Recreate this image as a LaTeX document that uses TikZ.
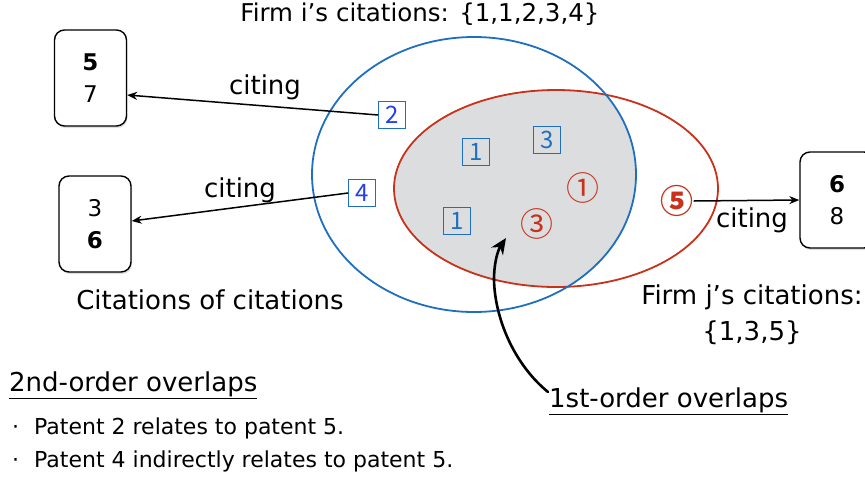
\documentclass[tikz,border=0pt]{standalone}
\usepackage{fontspec}
\setmainfont{DejaVu Sans}
\newfontfamily\cjk{Noto Sans CJK JP}
\usetikzlibrary{arrows.meta,shadows}
\definecolor{firmblue}{HTML}{1F6FC0}
\definecolor{labelblue}{HTML}{2240F0}
\definecolor{firmred}{HTML}{C8321A}
\definecolor{overlapgray}{HTML}{DCDDDF}
\tikzset{
  citebox/.style={draw, line width=1.4pt, rounded corners=10pt, fill=white,
    drop shadow={shadow xshift=1pt, shadow yshift=-2pt, opacity=0.25},
    minimum width=72pt, minimum height=96pt, align=center, font=\fontsize{23}{32}\selectfont},
  patbox/.style={draw=firmblue, line width=0.8pt, text=firmblue, inner sep=0pt,
    minimum width=27pt, minimum height=27pt, font=\cjk\fontsize{24}{24}\selectfont},
  patboxout/.style={patbox, text=labelblue},
  circnum/.style={text=firmred, inner sep=0pt, font=\cjk\fontsize{33}{33}\selectfont},
  plain/.style={inner sep=0pt, font=\fontsize{26}{28}\selectfont},
  bullet/.style={inner sep=0pt, font=\fontsize{22}{24}\selectfont},
  cite/.style={-{Stealth[length=10pt,width=8pt]}, line width=1.5pt},
}
\begin{document}
\begin{tikzpicture}[x=1pt,y=-1pt]
\useasboundingbox (0,0) rectangle (865,480);

% overlap of the two citation sets
\begin{scope}
  \clip (474,174.5) ellipse [x radius=162, y radius=137.5];
  \fill[overlapgray] (556,188.5) ellipse [x radius=162, y radius=98.5];
\end{scope}
\draw[firmred, line width=1.8pt] (556,188.5) ellipse [x radius=162, y radius=98.5];
\draw[firmblue, line width=1.8pt] (474,174.5) ellipse [x radius=162, y radius=137.5];

% set labels
\node[plain, font=\fontsize{24.5}{28}\selectfont] (firmi) at (420,14) {Firm i’s citations: \{1,1,2,3,4\}};
\node[plain] (firmj) at (752,297) {Firm j’s citations:};
\node[plain] (firmjset) at (752,333) {\{1,3,5\}};
\node[plain] (coc) at (210,300) {Citations of citations};

% patents of firm i
\node[patboxout] (p2) at (392,115) {2};
\node[patboxout] (p4) at (362,193) {4};
\node[patbox] (p1a) at (476,152) {1};
\node[patbox] (p3) at (547,140) {3};
\node[patbox] (p1b) at (457,221) {1};

% patents of firm j
\node[circnum] (c1) at (583,188) {①};
\node[circnum] (c3) at (537,224) {③};
\node[circnum, font=\cjk\bfseries\fontsize{33}{33}\selectfont] (c5) at (677,201) {⑤};

% citing patents
\node[citebox] (b57) at (90.5,78) {\textbf{5}\\7};
\node[citebox] (b36) at (95,224) {3\\\textbf{6}};
\node[citebox, minimum width=74pt] (b68) at (837,200) {\textbf{6}\\8};

% citation links
\draw[cite] (p2.west) -- (b57.east |- 0,95);
\draw[cite] (p4.west) -- (b36.east |- 0,221);
\draw[cite] (c5.east) -- (b68.west);
\node[plain] (l1) at (265,87) {citing};
\node[plain] (l2) at (240,190) {citing};
\node[plain] (l3) at (752,220) {citing};

% pointer to the overlap
\coordinate (tail) at (548,392);
\coordinate (tip) at (506,238);
\draw[line width=2.6pt, line cap=round, -{Stealth[length=16pt,width=14pt]}]
  (tail) .. controls (515,365) and (495,320) .. (494,280)
  .. controls (494,262) and (498,250) .. (tip);

\node[plain, anchor=west] (first) at (549,401) {\underline{1st-order overlaps}};
\node[plain, anchor=west] (second) at (9,385) {\underline{2nd-order overlaps}};
\node[bullet, anchor=west] (b1) at (12,428) {·\hspace{15pt}Patent 2 relates to patent 5.};
\node[bullet, anchor=west] (b2) at (12,461) {·\hspace{15pt}Patent 4 indirectly relates to patent 5.};
\end{tikzpicture}
\end{document}
